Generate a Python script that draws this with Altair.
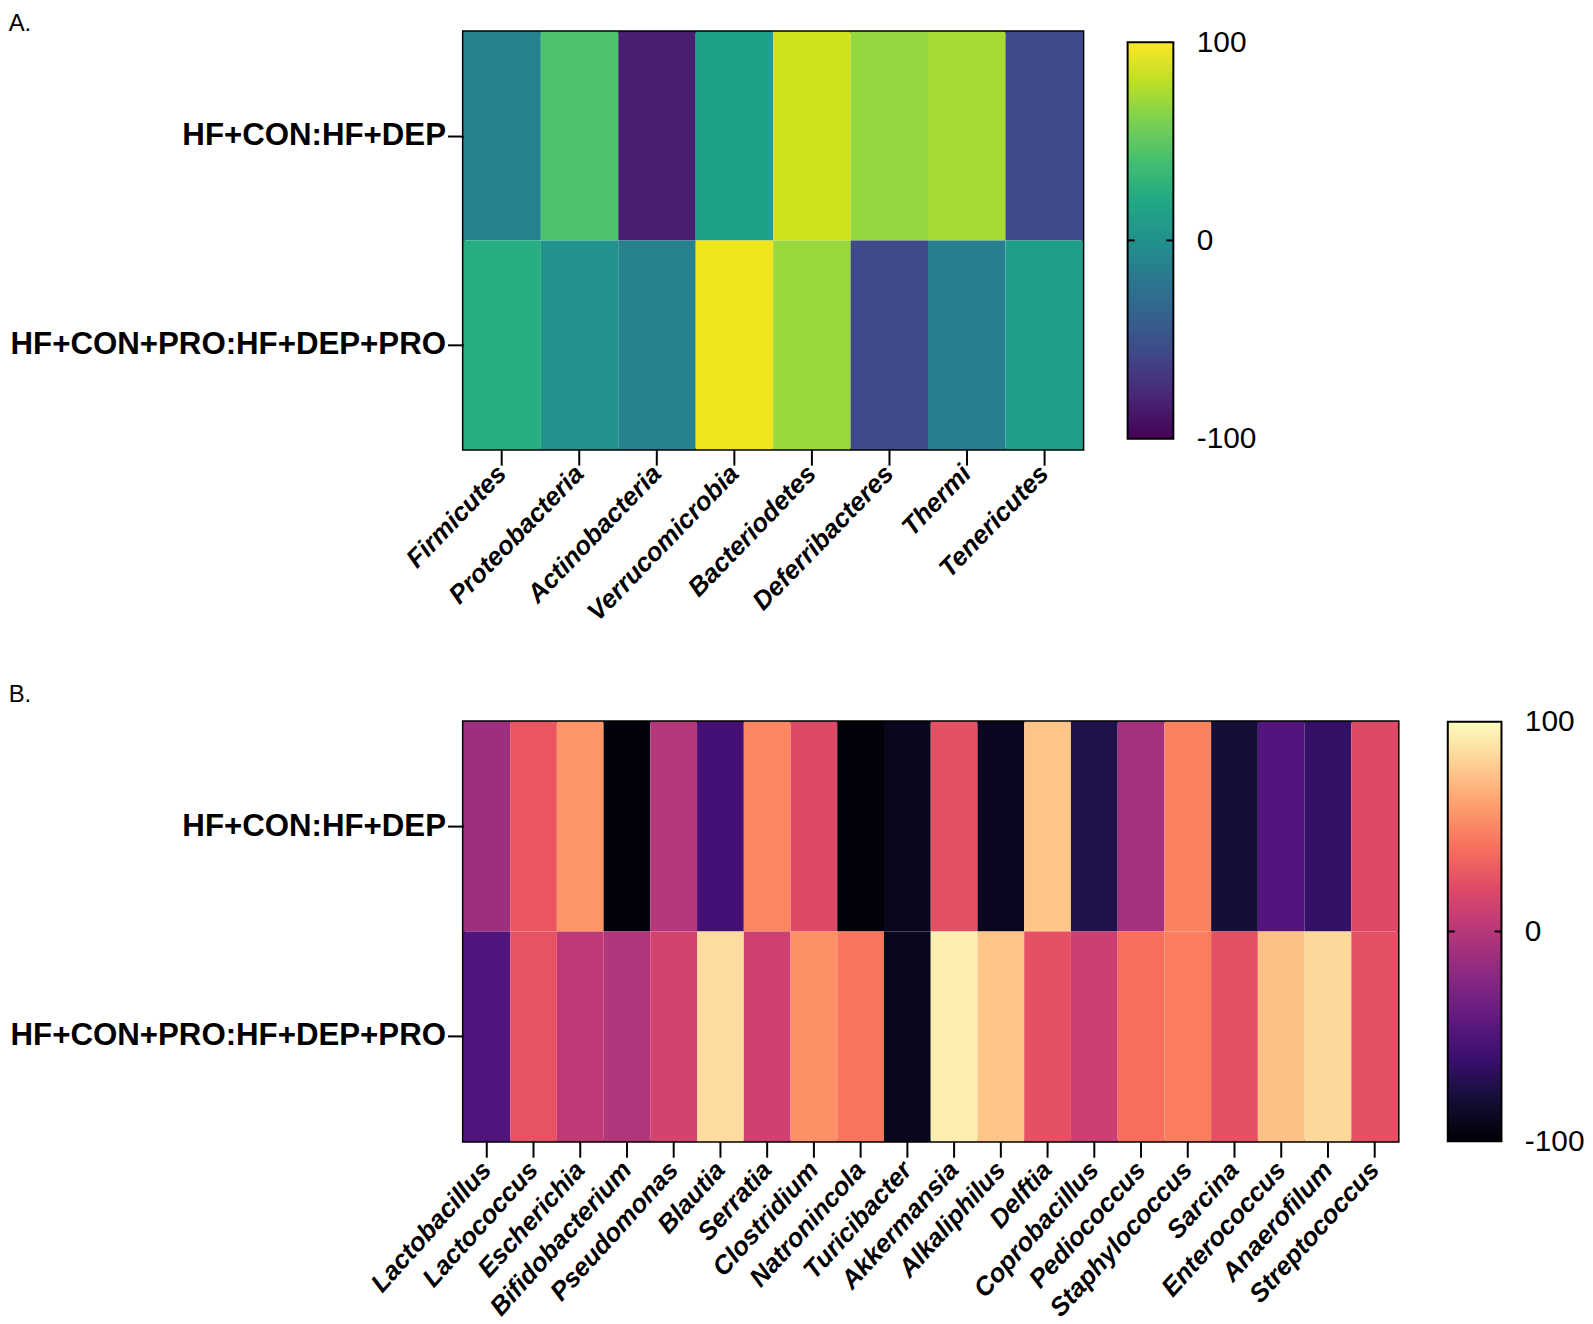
import altair as alt
import pandas as pd

rows = ["HF+CON:HF+DEP", "HF+CON+PRO:HF+DEP+PRO"]

phyla = ["Firmicutes", "Proteobacteria", "Actinobacteria", "Verrucomicrobia",
         "Bacteriodetes", "Deferribacteres", "Thermi", "Tenericutes"]
phyla_row1 = [-12, 44, -84, 14, 86, 68, 74, -56]
phyla_row2 = [24, 1, -12, 96, 70, -56, -16, 12]

genera = ["Lactobacillus", "Lactococcus", "Escherichia", "Bifidobacterium",
          "Pseudomonas", "Blautia", "Serratia", "Clostridium", "Natronincola",
          "Turicibacter", "Akkermansia", "Alkaliphilus", "Delftia",
          "Coprobacillus", "Pediococcus", "Staphylococcus", "Sarcina",
          "Enterococcus", "Anaerofilum", "Streptococcus"]
genera_row1 = [-12, 28, 56, -96, 0, -56, 50, 20, -97, -90,
               24, -88, 76, -74, -8, 48, -80, -48, -64, 20]
genera_row2 = [-50, 26, 4, -2, 14, 86, 12, 54, 42, -90,
               94, 76, 24, 10, 40, 46, 24, 74, 84, 24]

scale_ticks = [-100, 0, 100]

# colour-bar gradient stops (style only)
VIRIDIS = ["#440154", "#482475", "#414487", "#355f8d", "#2a788e", "#21918c",
           "#22a884", "#44bf70", "#7ad151", "#bddf26", "#fde725"]
MAGMA = ["#000004", "#140e36", "#3b0f70", "#641a80", "#8c2981", "#b73779",
         "#de4968", "#f7705c", "#fe9f6d", "#fecf92", "#fcfdbf"]


def make_df(cols, r1, r2):
    recs = []
    for c, v in zip(cols, r1):
        recs.append({"row": rows[0], "taxon": c, "value": v})
    for c, v in zip(cols, r2):
        recs.append({"row": rows[1], "taxon": c, "value": v})
    return pd.DataFrame(recs)


def heat(df, cols, scheme, w, h, xfont, xpad, xangle):
    return alt.Chart(df).mark_rect().encode(
        x=alt.X("taxon:N", sort=cols,
                axis=alt.Axis(title=None, labelAngle=xangle, labelFontSize=xfont,
                              labelFontStyle="italic", labelFontWeight="bold",
                              labelAlign="right", labelBaseline="middle",
                              labelPadding=xpad, labelLimit=0, tickSize=16,
                              tickWidth=2, tickColor="black", domain=False,
                              labelColor="black")),
        y=alt.Y("row:N", sort=rows,
                axis=alt.Axis(title=None, labelFontSize=31.4, labelFontWeight="bold",
                              labelPadding=2, tickSize=16, tickWidth=2,
                              tickColor="black", domain=False, labelLimit=0,
                              labelColor="black")),
        color=alt.Color("value:Q",
                        scale=alt.Scale(scheme=scheme, domain=[-100, 100]),
                        legend=None),
    ).properties(width=w, height=h,
                 view=alt.ViewBackground(stroke="black", strokeWidth=3))


def colorbar(stops, w, h, ext):
    grad = alt.Gradient(
        gradient="linear",
        stops=[alt.GradientStop(color=c, offset=i / (len(stops) - 1))
               for i, c in enumerate(stops)],
        x1=0, x2=0, y1=1, y2=0)
    bar_df = pd.DataFrame({"lo": [scale_ticks[0]], "hi": [scale_ticks[-1]]})
    zero_df = pd.DataFrame({"lo": [scale_ticks[1]]})
    yscale = alt.Scale(domain=[-ext, ext], nice=False, zero=False)
    yaxis = alt.Axis(orient="right", values=scale_ticks,
                     labelExpr="datum.value + ''", labelFontSize=30,
                     labelPadding=23, ticks=False, domain=False,
                     grid=False, title=None, labelColor="black",
                     labelFontWeight="normal")
    bar = alt.Chart(bar_df).mark_rect(fill=grad, stroke="black", strokeWidth=2).encode(
        x=alt.value(0), x2=alt.value(w),
        y=alt.Y("lo:Q", scale=yscale, axis=yaxis),
        y2="hi:Q",
    )
    t1 = alt.Chart(zero_df).mark_rule(color="black", strokeWidth=2).encode(
        x=alt.value(0), x2=alt.value(7),
        y=alt.Y("lo:Q", scale=yscale, axis=yaxis))
    t2 = alt.Chart(zero_df).mark_rule(color="black", strokeWidth=2).encode(
        x=alt.value(w - 7), x2=alt.value(w),
        y=alt.Y("lo:Q", scale=yscale, axis=yaxis))
    return alt.layer(bar, t1, t2).properties(
        width=w, height=h, view=alt.ViewBackground(strokeWidth=0))


def title(t, off):
    return alt.TitleParams(t, anchor="start", frame="bounds", fontSize=24,
                           fontWeight="normal", offset=off, color="black")


panel_a = alt.hconcat(
    heat(make_df(phyla, phyla_row1, phyla_row2), phyla, "viridis",
         623, 420, 26, 4, -46),
    colorbar(VIRIDIS, 46, 420, 105.3),
    spacing=45, bounds="flush", title=title("A.", -9),
)
panel_b = alt.hconcat(
    heat(make_df(genera, genera_row1, genera_row2), genera, "magma",
         940, 422, 26, 8, -48),
    colorbar(MAGMA, 54, 422, 100),
    spacing=50, bounds="flush", title=title("B.", 0),
)

chart = alt.vconcat(panel_a, panel_b, spacing=56).resolve_scale(
    color="independent"
).configure(
    font="Liberation Sans", padding=0
).configure_view(
    strokeWidth=0
)

chart.save("out.html", embed_options={"renderer": "svg", "actions": False})
